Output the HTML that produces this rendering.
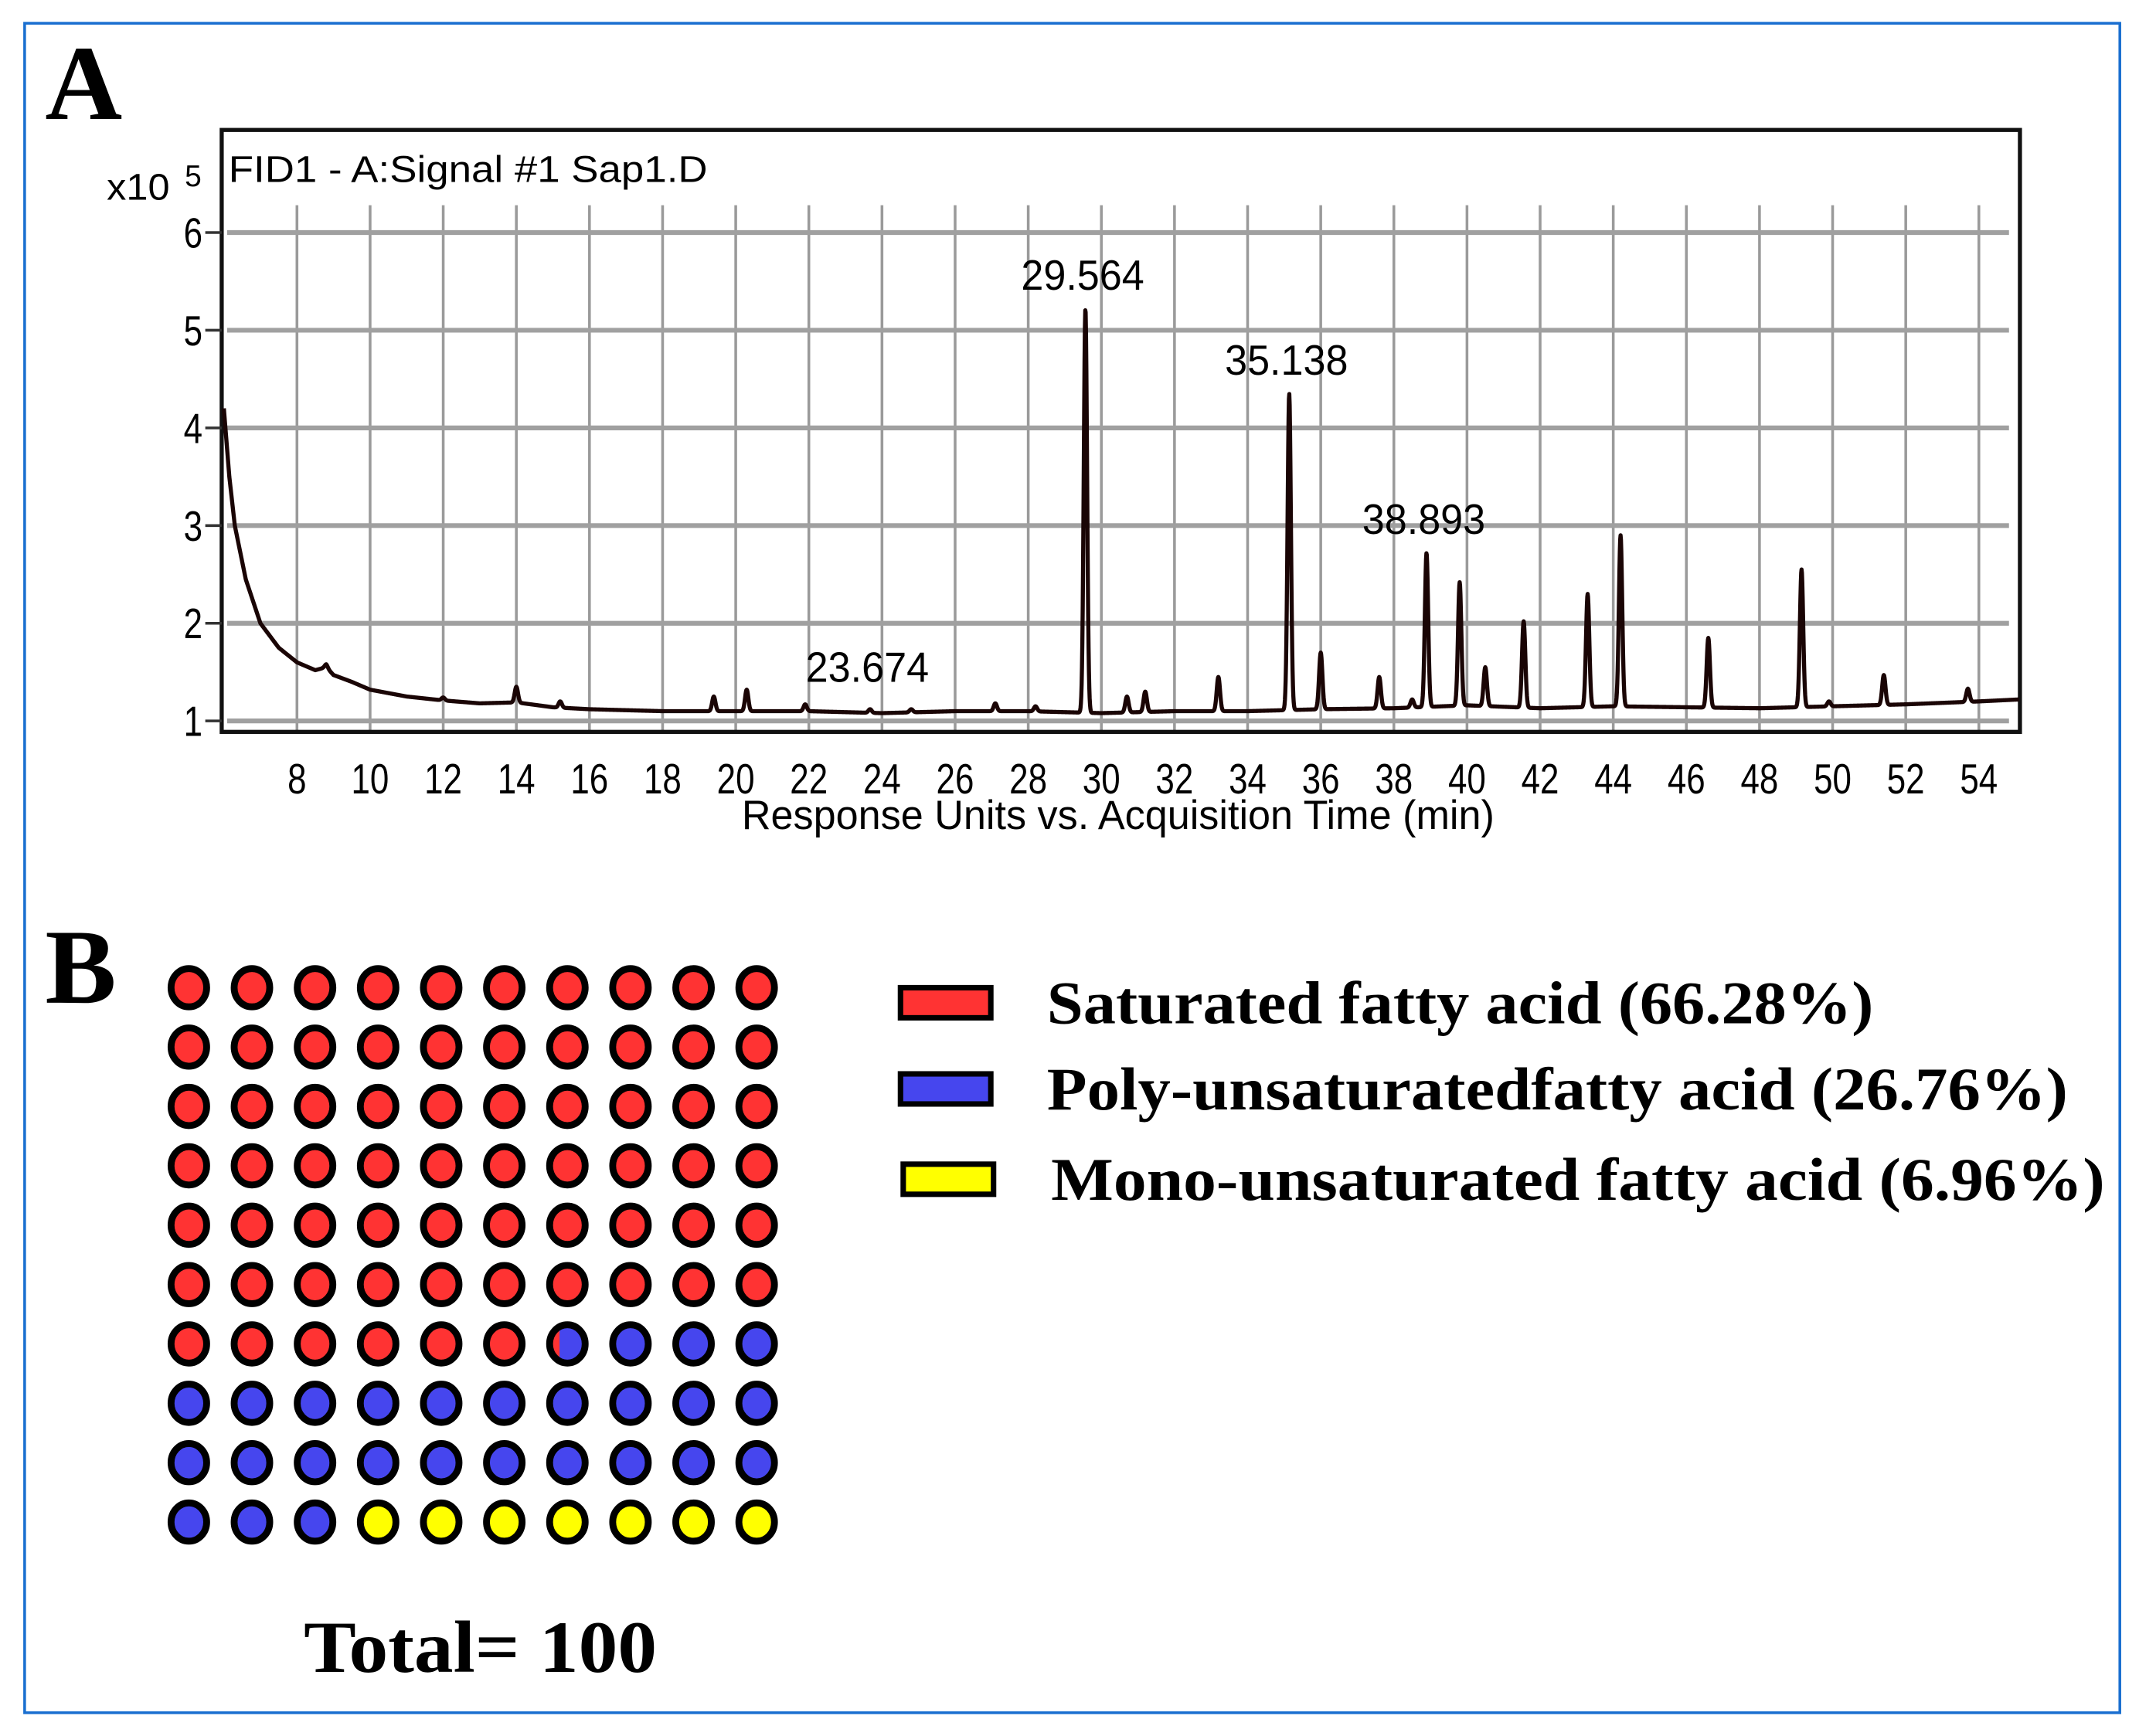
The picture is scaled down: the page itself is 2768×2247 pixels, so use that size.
<!DOCTYPE html>
<html><head><meta charset="utf-8"><style>
html,body{margin:0;padding:0;background:#fff;}
svg{display:block;}
</style></head><body>
<svg id="fig" width="2768" height="2247" viewBox="0 0 1563 1269" preserveAspectRatio="none" xmlns="http://www.w3.org/2000/svg">
<rect x="18" y="17" width="1531" height="1235" fill="#fff" stroke="#1a6fd0" stroke-width="2"/>
<text x="33" y="87" font-family="Liberation Serif, serif" font-weight="bold" font-size="78">A</text>
<g id="chart"></g>
<text x="33" y="733" font-family="Liberation Serif, serif" font-weight="bold" font-size="78">B</text>
<g id="waffle"></g>
<g id="legend"></g>
<text x="222" y="1222" font-family="Liberation Serif, serif" font-weight="bold" font-size="54" textLength="258" lengthAdjust="spacingAndGlyphs">Total= 100</text>
</svg>
<script>
// ---- chromatogram data ----
const baseTimes = [6.0,6.15,6.3,6.6,7.0,7.5,8.0,8.5,8.8,9.0,9.5,10,11,12,13,14,15,16,18,20,22,24,26,28,30,32,34,36,38,40,42,44,46,48,50,52,54,55.1];
const baseVals  = [4.2,3.5,3.0,2.45,2.0,1.75,1.6,1.52,1.55,1.47,1.4,1.32,1.25,1.21,1.18,1.19,1.14,1.12,1.1,1.1,1.1,1.08,1.1,1.1,1.08,1.1,1.1,1.12,1.13,1.16,1.13,1.15,1.14,1.13,1.15,1.17,1.2,1.22];
const peakTimes   = [29.564,35.138,38.893,39.8,40.5,41.55,43.3,44.2,46.6,49.15,36.0,37.6,33.2,31.2,30.7,51.4,53.7,14.0,20.3,19.4,27.1,21.9,23.674,15.2,49.9,38.5,12.0,8.8,24.8,28.2];
const peakHeights = [5.22,4.35,2.72,2.42,1.55,2.02,2.3,2.9,1.85,2.55,1.7,1.45,1.45,1.3,1.25,1.47,1.33,1.35,1.32,1.25,1.18,1.17,1.12,1.2,1.2,1.22,1.24,1.58,1.12,1.15];
const peakLabels  = [["29.564",29.564,5.22],["35.138",35.138,4.35],["38.893",38.893,2.72],["23.674",23.674,1.12]];
const xTicks = [8,10,12,14,16,18,20,22,24,26,28,30,32,34,36,38,40,42,44,46,48,50,52,54];
const yTicks = [1,2,3,4,5,6];

const NS="http://www.w3.org/2000/svg";
function mk(parent,tag,attrs,text){const e=document.createElementNS(NS,tag);for(const k in attrs)e.setAttribute(k,attrs[k]);if(text!==undefined)e.textContent=text;parent.appendChild(e);return e;}
const X0=162,X1=1476,Y0=95,Y1=535;
const xs=t=>217+(t-8)*(1446-217)/46;
const ys=v=>527-(v-1)*(527-170)/5;
const chart=document.getElementById('chart');

xTicks.forEach(t=>{const l=mk(chart,'line',{x1:xs(t),x2:xs(t),y1:150,y2:Y1,stroke:'#9a9a9a','stroke-width':2});

});
yTicks.forEach(v=>{const l=mk(chart,'line',{x1:166,x2:1468,y1:ys(v),y2:ys(v),stroke:'#a0a0a0','stroke-width':3.5});

});
const fr=mk(chart,'rect',{x:X0,y:Y0,width:X1-X0,height:Y1-Y0,fill:'none',stroke:'#111','stroke-width':3});


function baseAt(t){for(let i=0;i<baseTimes.length-1;i++){if(t<=baseTimes[i+1]){const f=(t-baseTimes[i])/(baseTimes[i+1]-baseTimes[i]);return baseVals[i]+f*(baseVals[i+1]-baseVals[i]);}}return baseVals[baseVals.length-1];}
let d='';
for(let t=6.0;t<=55.1;t+=0.01){let v=baseAt(t);for(let k=0;k<peakTimes.length;k++){const s=0.045,dt=t-peakTimes[k];if(Math.abs(dt)<0.4)v+=(peakHeights[k]-baseAt(peakTimes[k]))*Math.exp(-dt*dt/(2*s*s));}
d+=(d?'L':'M')+xs(t).toFixed(2)+','+ys(v).toFixed(2);}
const tr=mk(chart,'path',{d:d,fill:'none',stroke:'#1a0505','stroke-width':3,'stroke-linejoin':'round'});


const fs='Liberation Sans, sans-serif';
xTicks.forEach(t=>{const e=mk(chart,'text',{x:xs(t),y:580,'text-anchor':'middle','font-family':fs,'font-size':31,transform:`translate(${xs(t)},0) scale(0.8,1) translate(${-xs(t)},0)`},String(t));

});
yTicks.forEach(v=>{const e=mk(chart,'text',{x:148,y:ys(v)+11,'text-anchor':'end','font-family':fs,'font-size':31,transform:`translate(148,0) scale(0.8,1) translate(-148,0)`},String(v));


const tk=mk(chart,'line',{x1:150,x2:162,y1:ys(v),y2:ys(v),stroke:'#333','stroke-width':2});

});
const yx=mk(chart,'text',{x:78,y:146,'font-family':fs,'font-size':27,textLength:46,lengthAdjust:'spacingAndGlyphs'},'x10');


const yx2=mk(chart,'text',{x:135,y:136,'font-family':fs,'font-size':22},'5');


const ttl=mk(chart,'text',{x:167,y:133,'font-family':fs,'font-size':27,textLength:350,lengthAdjust:'spacingAndGlyphs'},'FID1 - A:Signal #1 Sap1.D');


const xt=mk(chart,'text',{x:817,y:606,'text-anchor':'middle','font-family':fs,'font-size':30,textLength:550,lengthAdjust:'spacingAndGlyphs'},'Response Units vs. Acquisition Time (min)');


peakLabels.forEach(p=>{const e=mk(chart,'text',{x:xs(p[1])-2,y:ys(p[2])-(p[0]==='23.674'?20:14),'text-anchor':'middle','font-family':fs,'font-size':31,textLength:90,lengthAdjust:'spacingAndGlyphs'},p[0]);

});

// ---- waffle data ----
const catNames = ['Saturated fatty acid (66.28%)','Poly-unsaturatedfatty acid (26.76%)','Mono-unsaturated fatty acid (6.96%)'];
const catValues = [66.28,26.76,6.96];
const catColors = ['#ff3333','#4646ee','#ffff00'];
const waffle=document.getElementById('waffle');
const cx=c=>138+c*46.1, cy=r=>722+r*43.4;
const bounds=[];let acc=0;catValues.forEach(v=>{bounds.push([acc,acc+v]);acc+=v;});
for(let i=0;i<100;i++){const r=Math.floor(i/10),c=i%10;const X=cx(c),Y=cy(r);
 const parts=bounds.map(b=>Math.max(0,Math.min(i+1,b[1])-Math.max(i,b[0])));
 const g=mk(waffle,'g',{});
 
 
 let x=X-13;
 const cid='clip'+i;const cp=mk(g,'clipPath',{id:cid});mk(cp,'ellipse',{cx:X,cy:Y,rx:13,ry:14});
 parts.forEach((p,k)=>{if(p>0){mk(g,'rect',{x:x,y:Y-15,width:26*p+0.3,height:30,fill:catColors[k],'clip-path':`url(#${cid})`});x+=26*p;}});
 mk(g,'ellipse',{cx:X,cy:Y,rx:13,ry:14,fill:'none',stroke:'#000','stroke-width':5});
}
const legend=document.getElementById('legend');
const ly=[733,796,862],lx=[658,658,660],tl=[604,746,770],tx=[765,765,768];
catNames.forEach((n,k)=>{const b=mk(legend,'rect',{x:lx[k],y:ly[k]-11,width:66,height:22,fill:catColors[k],stroke:'#000','stroke-width':4});


const t=mk(legend,'text',{x:tx[k],y:ly[k]+15,'font-family':'Liberation Serif, serif','font-weight':'bold','font-size':44,textLength:tl[k],lengthAdjust:'spacingAndGlyphs'},n);

});
</script>
</body></html>
